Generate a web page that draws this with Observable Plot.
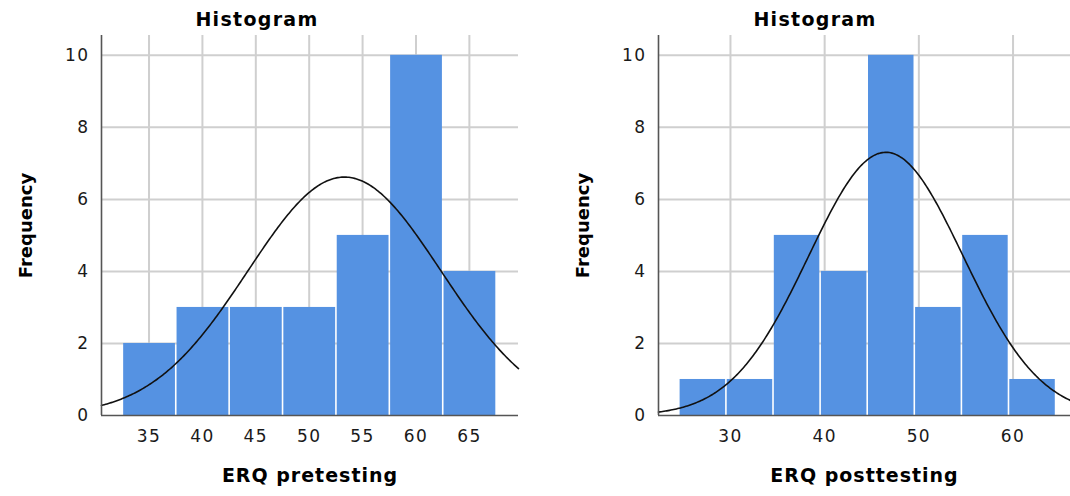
<!DOCTYPE html>
<html><head><meta charset="utf-8">
<script src="https://cdn.jsdelivr.net/npm/d3@7"></script>
<script src="https://cdn.jsdelivr.net/npm/@observablehq/plot@0.6"></script>
<style>
body{margin:0;background:#fff;}
#wrap{position:relative;width:1070px;height:496px;overflow:hidden;background:#fff;}
.title{position:absolute;top:0;width:300px;height:30px;line-height:38px;text-align:center;font-family:"DejaVu Sans";font-weight:bold;font-size:19px;letter-spacing:1.3px;color:#000;}
.panel{position:absolute;top:30px;}
.panel svg{letter-spacing:1.4px;}
</style>
</head><body>
<div id="wrap">
  <div class="title" style="left:107px">Histogram</div>
  <div class="title" style="left:665px">Histogram</div>
  <div class="panel" id="p1" style="left:0px"></div>
  <div class="panel" id="p2" style="left:535px"></div>
</div>
<script>
// ---- data ----
const preBinLower = [32.55, 37.55, 42.55, 47.55, 52.55, 57.55, 62.55];
const preCounts   = [2, 3, 3, 3, 5, 10, 4];
const preMean = 53.3, preSD = 9.04;
const preTicks = [35, 40, 45, 50, 55, 60, 65];
const preDomain = [30.55, 69.6];

const postBinLower = [24.57, 29.57, 34.57, 39.57, 44.57, 49.57, 54.57, 59.57];
const postCounts   = [1, 1, 5, 4, 10, 3, 5, 1];
const postMean = 46.5, postSD = 8.19;
const postTicks = [30, 40, 50, 60];
const postDomain = [22.36, 66.1];

const binWidth = 5;
const yTicks = [0, 2, 4, 6, 8, 10];
const yDomain = [0, 10.55];

function panel({lower, counts, mean, sd, domain, ticks, label, marginLeft, marginRight}) {
  const n = d3.sum(counts);
  const bins = lower.map((l, i) => ({x1: l, x2: l + binWidth, y: counts[i]}));
  const k = n * binWidth / (sd * Math.sqrt(2 * Math.PI));
  const curve = d3.range(0, 301).map(i => {
    const x = domain[0] + (domain[1] - domain[0]) * i / 300;
    return {x, y: k * Math.exp(-((x - mean) ** 2) / (2 * sd * sd))};
  });
  const svg = Plot.plot({
    width: 535, height: 466,
    marginTop: 5, marginBottom: 81, marginLeft, marginRight,
    x: {domain},
    y: {domain: yDomain},
    style: {fontFamily: "DejaVu Sans", fontSize: "17px", color: "#1a1a1a", background: "white", overflow: "visible"},
    marks: [
      Plot.gridX(ticks, {stroke: "#cfcfcf", strokeWidth: 2, strokeOpacity: 1}),
      Plot.gridY(yTicks.filter(d => d > 0), {stroke: "#cfcfcf", strokeWidth: 2, strokeOpacity: 1}),
      Plot.rectY(bins, {x1: "x1", x2: "x2", y: "y", fill: "#5592e2", insetLeft: 0.8, insetRight: 0.8}),
      Plot.line(curve, {x: "x", y: "y", stroke: "#111", strokeWidth: 1.6}),
      Plot.ruleX([domain[0]], {stroke: "#555", strokeWidth: 1.6}),
      Plot.ruleY([0], {stroke: "#555", strokeWidth: 1.6}),
      Plot.axisX(ticks, {tickSize: 0, tickPadding: 14, label: null, fontSize: 17}),
      Plot.axisY(yTicks, {tickSize: 0, tickPadding: 12, label: null, fontSize: 17}),
      Plot.text([label], {frameAnchor: "bottom", dy: 66, fontWeight: "bold", fontSize: 19, fill: "#000"}),
      Plot.text(["Frequency"], {frameAnchor: "left", textAnchor: "middle", rotate: -90, dx: -75, fontWeight: "bold", fontSize: 18, fill: "#000"})
    ]
  });
  d3.select(svg).selectAll("text").filter(function() { return this.textContent === label; }).style("letter-spacing", "1px");
  d3.select(svg).selectAll("text").filter(function() { return this.textContent === "Frequency"; }).style("letter-spacing", "0px");
  return svg;
}

document.getElementById("p1").append(panel({
  lower: preBinLower, counts: preCounts, mean: preMean, sd: preSD,
  domain: preDomain, ticks: preTicks, label: "ERQ pretesting", marginLeft: 101, marginRight: 17
}));
document.getElementById("p2").append(panel({
  lower: postBinLower, counts: postCounts, mean: postMean, sd: postSD,
  domain: postDomain, ticks: postTicks, label: "ERQ posttesting", marginLeft: 123, marginRight: 0
}));
</script>
</body></html>
